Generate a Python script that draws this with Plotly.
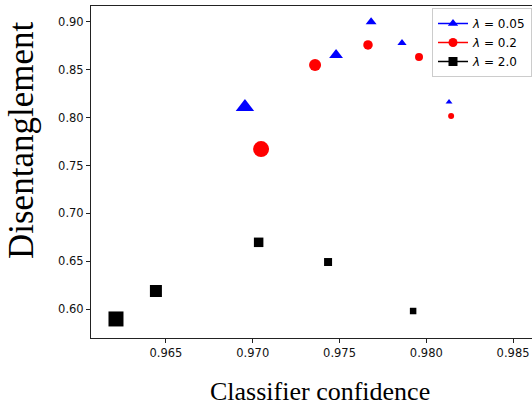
import plotly.graph_objects as go

# Data
blue_x = [0.96955, 0.9748, 0.97682, 0.9786, 0.98131]
blue_y = [0.8112, 0.8655, 0.900, 0.878, 0.8164]
blue_s = [16, 12, 9.5, 8, 6]

red_x = [0.97048, 0.97359, 0.97664, 0.97958, 0.98143]
red_y = [0.7672, 0.855, 0.876, 0.8634, 0.8017]
red_s = [16, 12, 9.5, 8, 6]

black_x = [0.96212, 0.96442, 0.97034, 0.97434, 0.97924]
black_y = [0.5896, 0.6188, 0.6697, 0.6491, 0.5979]
black_s = [15, 12, 9.5, 8, 6.5]

labels = ["<i>λ</i> = 0.05", "<i>λ</i> = 0.2", "<i>λ</i> = 2.0"]
colors = ["#0000ff", "#ff0000", "#000000"]
symbols = ["triangle-up", "circle", "square"]

x_ticks = [0.965, 0.970, 0.975, 0.980, 0.985]
y_ticks = [0.60, 0.65, 0.70, 0.75, 0.80, 0.85, 0.90]

x_title = "Classifier confidence"
y_title = "Disentanglement"

fig = go.Figure()
series = [(blue_x, blue_y, blue_s), (red_x, red_y, red_s), (black_x, black_y, black_s)]
for (xs, ys, ss), lab, col, sym in zip(series, labels, colors, symbols):
    fig.add_trace(go.Scatter(x=xs, y=ys, mode="markers", showlegend=False,
                             marker=dict(size=ss, color=col, symbol=sym, opacity=1,
                                         line=dict(width=0))))
    fig.add_trace(go.Scatter(x=[None], y=[None], mode="lines+markers", name=lab,
                             line=dict(color=col, width=1.5),
                             marker=dict(size=9, color=col, symbol=sym, opacity=1)))

axis_common = dict(showgrid=False, zeroline=False, showline=True, linecolor="#222222",
                   linewidth=1, ticks="outside", ticklen=4, tickcolor="#222222",
                   tickfont=dict(family="DejaVu Sans", size=11.5, color="#111111"))

W, H = 532, 405
ml, mr, mt, mb = 91, 0, 6, 67
pw, ph = W - ml - mr, H - mt - mb

fig.update_layout(
    width=W, height=H,
    margin=dict(l=ml, r=mr, t=mt, b=mb),
    paper_bgcolor="white", plot_bgcolor="white",
    xaxis=dict(range=[0.96068, 0.98609], tickvals=x_ticks, tickformat=".3f", mirror=True,
               **axis_common),
    yaxis=dict(range=[0.5697, 0.9167], tickvals=y_ticks, tickformat=".2f", mirror=False,
               **axis_common),
    legend=dict(x=1.0, y=0.994, xanchor="right", yanchor="top",
                bordercolor="#cccccc", borderwidth=1, bgcolor="rgba(255,255,255,0.8)",
                font=dict(family="DejaVu Sans", size=12, color="#000000"),
                tracegroupgap=0),
    annotations=[
        dict(text=x_title, xref="paper", yref="paper",
             x=(320 - ml) / pw, y=-(391 - mt - ph) / ph, xanchor="center", yanchor="middle",
             showarrow=False, font=dict(family="Liberation Serif", size=26, color="#000000")),
        dict(text=y_title, xref="paper", yref="paper", textangle=-90,
             x=(22 - ml) / pw, y=1 - (141 - mt) / ph, xanchor="center", yanchor="middle",
             showarrow=False, font=dict(family="Liberation Serif", size=35, color="#000000")),
    ],
)

fig.write_html("out.html")
